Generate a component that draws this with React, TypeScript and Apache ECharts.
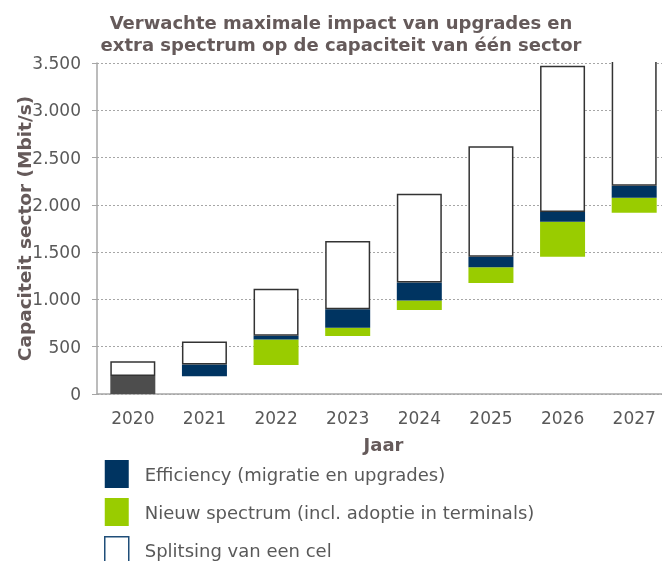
import React, { useEffect, useRef } from "react";
import * as echarts from "echarts";

const years = ["2020", "2021", "2022", "2023", "2024", "2025", "2026", "2027"];
// invisible offset (2020: current capacity, drawn dark grey)
const baseValues = [190, 188, 306, 612, 889, 1174, 1452, 1916];
const spectrumValues = [0, 0, 270, 88, 99, 166, 369, 159];
const efficiencyValues = [0, 124, 39, 197, 190, 112, 103, 126];
const splitsingValues = [155, 243, 499, 720, 939, 1168, 1547, 1900];
const yTicks = [0, 500, 1000, 1500, 2000, 2500, 3000, 3500];

const FONT = "DejaVu Sans";
const TITLE_COLOR = "#655a5a";
const LABEL_COLOR = "#595959";
const BLUE = "#003461";
const GREEN = "#99cc00";

export default function App() {
  const ref = useRef<HTMLDivElement>(null);
  useEffect(() => {
    if (!ref.current) return;
    const chart = echarts.init(ref.current, null, { renderer: "svg" });
    const fmt = (v: number) => String(v).replace(/\B(?=(\d{3})+(?!\d))/g, ".");
    chart.setOption({
      animation: false,
      textStyle: { fontFamily: FONT },
      title: {
        text: "Verwachte maximale impact van upgrades en\nextra spectrum op de capaciteit van één sector",
        left: 336,
        textAlign: "center",
        top: 6,
        textStyle: {
          fontFamily: FONT,
          fontWeight: "bold",
          fontSize: 18,
          lineHeight: 22,
          color: TITLE_COLOR,
        },
      },
      legend: {
        orient: "vertical",
        left: 104,
        top: 460,
        height: 150,
        padding: 0,
        itemWidth: 24,
        itemHeight: 28,
        itemGap: 10,
        icon: "rect",
        textStyle: { fontFamily: FONT, fontSize: 18, color: LABEL_COLOR, padding: [0, 0, 0, 11] },
        data: [
          { name: "Efficiency (migratie en upgrades)" },
          { name: "Nieuw spectrum (incl. adoptie in terminals)" },
          {
            name: "Splitsing van een cel",
            itemStyle: { color: "#ffffff", borderColor: "#1f4e79", borderWidth: 1.5 },
          },
        ],
      },
      grid: { left: 97, right: -8, top: 63, bottom: 167, containLabel: false, outerBoundsMode: "none" },
      graphic: [
        {
          type: "rect",
          z: 100,
          shape: { x: 600, y: 0, width: 62, height: 62 },
          style: { fill: "#ffffff" },
        },
      ],
      xAxis: {
        type: "category",
        data: years,
        name: "Jaar",
        nameLocation: "middle",
        nameGap: 41,
        nameMoveOverlap: false,
        nameTextStyle: { fontFamily: FONT, fontWeight: "bold", fontSize: 18, color: TITLE_COLOR },
        axisLine: { lineStyle: { color: "#a6a6a6", width: 1.5 } },
        axisTick: { length: 5, lineStyle: { color: "#a6a6a6" } },
        axisLabel: { fontFamily: FONT, fontSize: 17, color: LABEL_COLOR, margin: 15 },
      },
      yAxis: {
        type: "value",
        min: yTicks[0],
        max: yTicks[yTicks.length - 1],
        interval: 500,
        name: "Capaciteit sector (Mbit/s)",
        nameLocation: "middle",
        nameGap: 63,
        nameMoveOverlap: false,
        nameTextStyle: { fontFamily: FONT, fontWeight: "bold", fontSize: 18.5, color: TITLE_COLOR },
        axisLine: { show: true, lineStyle: { color: "#a6a6a6", width: 1.5 } },
        axisTick: { show: true, length: 5, lineStyle: { color: "#a6a6a6" } },
        axisLabel: { fontFamily: FONT, fontSize: 17, color: LABEL_COLOR, margin: 16, formatter: fmt },
        splitLine: { lineStyle: { color: "#a6a6a6", type: [2, 2], width: 1 } },
      },
      series: [
        {
          name: "Huidig",
          type: "bar",
          stack: "s",
          barWidth: 45,
          clip: false,
          data: baseValues.map((v, i) => ({
            value: v,
            itemStyle: { color: i === 0 ? "#4d4d4d" : "rgba(0,0,0,0)" },
          })),
        },
        {
          name: "Nieuw spectrum (incl. adoptie in terminals)",
          type: "bar",
          stack: "s",
          barWidth: 45,
          clip: false,
          itemStyle: { color: GREEN },
          data: spectrumValues,
        },
        {
          name: "Efficiency (migratie en upgrades)",
          type: "bar",
          stack: "s",
          barWidth: 45,
          clip: false,
          itemStyle: { color: BLUE },
          data: efficiencyValues,
        },
        {
          name: "Splitsing van een cel",
          type: "bar",
          stack: "s",
          barWidth: 45,
          clip: false,
          itemStyle: { color: "#ffffff", borderColor: "#333333", borderWidth: 1.5 },
          data: splitsingValues,
        },
      ],
    });
    return () => chart.dispose();
  }, []);
  return (
    <div
      ref={ref}
      style={{ position: "fixed", left: 0, top: 0, width: 662, height: 561 }}
    />
  );
}
